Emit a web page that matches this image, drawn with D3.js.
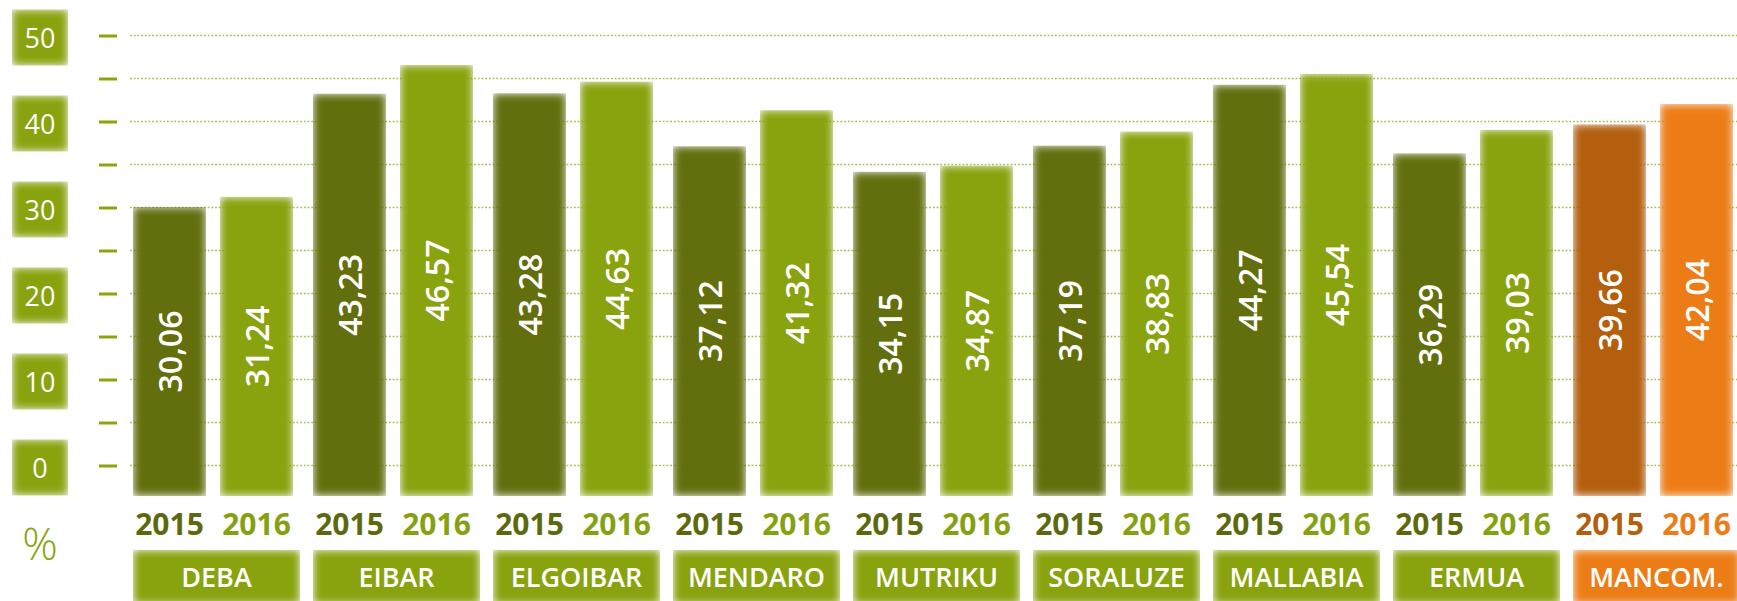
<!DOCTYPE html>
<meta charset="utf-8">
<style>
    body { margin: 0; background: #fff; }
    svg { display: block; font-family: "Open Sans", "DejaVu Sans", sans-serif; }
    .grid line { stroke: #a9bb52; stroke-width: 1.6px; stroke-dasharray: 1.8, 1.9; }
    .tick-marks line { stroke: #8aa40e; stroke-width: 3px; }
    .tick-marks .domain, .tick-marks text { display: none; }
    .box-label { fill: #fff; text-anchor: middle; dominant-baseline: central; }
</style>
<svg width="1737" height="601"></svg>
<script src="https://d3js.org/d3.v7.min.js"></script>
<script>

    var towns = ["DEBA", "EIBAR", "ELGOIBAR", "MENDARO", "MUTRIKU", "SORALUZE", "MALLABIA", "ERMUA", "MANCOM."];
    var years = ["2015", "2016"];
    var values2015 = [30.06, 43.23, 43.28, 37.12, 34.15, 37.19, 44.27, 36.29, 39.66];
    var values2016 = [31.24, 46.57, 44.63, 41.32, 34.87, 38.83, 45.54, 39.03, 42.04];
    var yTicks = [0, 5, 10, 15, 20, 25, 30, 35, 40, 45, 50];
    var yLabels = [0, 10, 20, 30, 40, 50];

    var svg = d3.select("svg"),
        width = +svg.attr("width");

    // colours: green towns and the orange total
    var colors = {
        green: {"2015": "#646e0a", "2016": "#88a30e", label2015: "#5d690e", label2016: "#85a112", box: "#88a30e"},
        orange: {"2015": "#b35f0e", "2016": "#ec7d16", label2015: "#b35f10", label2016: "#ec7d16", box: "#ec7d16"}
    };
    function palette(town) { return town === "MANCOM." ? colors.orange : colors.green; }

    var rows = towns.map(function (t, i) {
        return {town: t, values: [{year: "2015", value: values2015[i]}, {year: "2016", value: values2016[i]}]};
    });

    var x0 = d3.scaleBand().domain(towns).range([133, 1740]).paddingInner(13 / 180).paddingOuter(0);
    var x1 = d3.scaleBand().domain(years).range([0, 160]).paddingInner(14 / 87).paddingOuter(0);
    var y = d3.scaleLinear().domain([0, 50]).range([465.5, 35.5]);
    var baseline = -3.55; // bars hang a little below the zero line

    // soft edge filter
    var defs = svg.append("defs");
    var f = defs.append("filter").attr("id", "soft")
        .attr("x", "-20%").attr("y", "-20%").attr("width", "140%").attr("height", "140%");
    f.append("feGaussianBlur").attr("in", "SourceGraphic").attr("stdDeviation", 4.5).attr("result", "b");
    f.append("feComposite").attr("in", "b").attr("in2", "SourceAlpha").attr("operator", "in");

    // gridlines
    svg.append("g").attr("class", "grid")
        .selectAll("line").data(yTicks).enter().append("line")
        .attr("x1", 130).attr("x2", width)
        .attr("y1", function (d) { return y(d); })
        .attr("y2", function (d) { return y(d); });

    // tick marks
    svg.append("g").attr("class", "tick-marks")
        .attr("transform", "translate(117,0)")
        .call(d3.axisLeft(y).tickValues(yTicks).tickSize(18).tickFormat(""));

    // y label boxes
    var yl = svg.append("g").selectAll("g").data(yLabels).enter().append("g")
        .attr("transform", function (d) { return "translate(40," + (y(d) + 2) + ")"; });
    yl.append("rect")
        .attr("x", -28).attr("y", -28).attr("width", 56).attr("height", 56)
        .attr("fill", "#88a30e").attr("filter", "url(#soft)");
    yl.append("text").attr("class", "box-label")
        .style("font-size", "27px")
        .text(function (d) { return d; });

    svg.append("text")
        .attr("x", 40).attr("y", 560)
        .attr("text-anchor", "middle")
        .style("font-size", "44px").style("font-weight", 300)
        .attr("fill", "#8aa40e")
        .text("%");

    // bars
    var groups = svg.append("g").selectAll("g").data(rows).enter().append("g")
        .attr("transform", function (d) { return "translate(" + x0(d.town) + ",0)"; });

    var bars = groups.selectAll("g").data(function (d) {
        return d.values.map(function (v) { return {town: d.town, year: v.year, value: v.value}; });
    }).enter().append("g");

    bars.append("rect")
        .attr("x", function (d) { return x1(d.year); })
        .attr("y", function (d) { return y(d.value); })
        .attr("width", x1.bandwidth())
        .attr("height", function (d) { return y(baseline) - y(d.value); })
        .attr("fill", function (d) { return palette(d.town)[d.year]; })
        .attr("filter", "url(#soft)");

    bars.append("text")
        .attr("transform", function (d) {
            var cx = x1(d.year) + x1.bandwidth() / 2,
                cy = (y(d.value) + y(baseline)) / 2;
            return "translate(" + cx + "," + cy + ") rotate(-90)";
        })
        .attr("class", "box-label")
        .style("font-size", "32px").style("font-weight", 600)
        .text(function (d) { return d3.format(".2f")(d.value).replace(".", ","); });

    // year labels
    bars.append("text")
        .attr("x", function (d) { return x1(d.year) + x1.bandwidth() / 2; })
        .attr("y", 535)
        .attr("text-anchor", "middle")
        .style("font-size", "30px").style("font-weight", 700)
        .attr("fill", function (d) { return palette(d.town)["label" + d.year]; })
        .text(function (d) { return d.year; });

    // town boxes
    groups.append("rect")
        .attr("x", 0).attr("y", 550)
        .attr("width", x0.bandwidth()).attr("height", 54)
        .attr("fill", function (d) { return palette(d.town).box; })
        .attr("filter", "url(#soft)");

    groups.append("text")
        .attr("x", x0.bandwidth() / 2).attr("y", 587)
        .attr("text-anchor", "middle")
        .style("font-size", "27px").style("font-weight", 600)
        .attr("fill", "#fff")
        .text(function (d) { return d.town; });

</script>
